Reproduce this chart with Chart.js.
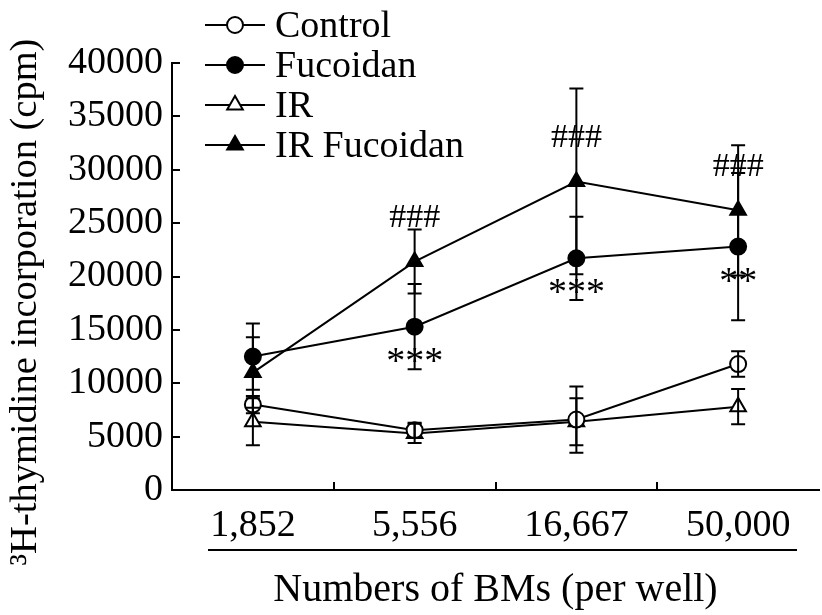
<!DOCTYPE html>
<html>
<head>
<meta charset="utf-8">
<script src="https://cdn.jsdelivr.net/npm/chart.js@4.4.1/dist/chart.umd.min.js"></script>
<style>
  html, body { margin: 0; padding: 0; overflow: hidden; background: #fff; }
  canvas { display: block; }
</style>
</head>
<body>
<canvas id="chart" width="830" height="615"></canvas>
<script>
// Numbers of BMs (per well)
const categories = ['1,852', '5,556', '16,667', '50,000']

// mean and SD per group (cpm)
const controlMean = [8000, 5600, 6600, 11800]
const controlSd = [800, 700, 3100, 1200]
const fucoidanMean = [12500, 15300, 21700, 22800]
const fucoidanSd = [3100, 4000, 3900, 6900]
const irMean = [6400, 5300, 6400, 7800]
const irSd = [2200, 900, 2200, 1650]
const irFucoidanMean = [11000, 21400, 28900, 26200]
const irFucoidanSd = [3300, 3000, 8700, 6100]

// significance marks
const hashMarks = ['', '###', '###', '###'] // over IR Fucoidan
const starMarks = ['', '***', '***', '**'] // under Fucoidan

const yMax = 40000
const yStep = 5000

const FONT = "'Liberation Serif', 'Times New Roman', serif"
Chart.defaults.font.family = FONT
Chart.defaults.color = '#000'

// error bars, drawn over the markers like in the original
const errorBars = {
  id: 'errorBars',
  afterDatasetsDraw (chart) {
    const { ctx } = chart
    const y = chart.scales.y
    ctx.save()
    ctx.strokeStyle = '#000'
    ctx.lineWidth = 2
    chart.data.datasets.forEach((ds, di) => {
      chart.getDatasetMeta(di).data.forEach((pt, i) => {
        const top = y.getPixelForValue(ds.data[i] + ds.errors[i])
        const bottom = y.getPixelForValue(ds.data[i] - ds.errors[i])
        ctx.beginPath()
        ctx.moveTo(pt.x, top)
        ctx.lineTo(pt.x, bottom)
        ctx.moveTo(pt.x - 7, top)
        ctx.lineTo(pt.x + 7, top)
        ctx.moveTo(pt.x - 7, bottom)
        ctx.lineTo(pt.x + 7, bottom)
        ctx.stroke()
      })
    })
    ctx.restore()
  }
}

// inward tick marks on both axes
const innerTicks = {
  id: 'innerTicks',
  afterDraw (chart) {
    const { ctx, chartArea } = chart
    const { x, y } = chart.scales
    ctx.save()
    ctx.strokeStyle = '#000'
    ctx.lineWidth = 2
    ctx.beginPath()
    y.ticks.forEach(t => {
      const py = Math.round(y.getPixelForValue(t.value))
      ctx.moveTo(chartArea.left, py)
      ctx.lineTo(chartArea.left + 8, py)
    })
    for (let i = 0; i < categories.length - 1; i++) {
      const px = Math.round((x.getPixelForValue(i) + x.getPixelForValue(i + 1)) / 2)
      ctx.moveTo(px, chartArea.bottom)
      ctx.lineTo(px, chartArea.bottom - 8)
    }
    ctx.stroke()

    // rule under the dose labels
    ctx.beginPath()
    ctx.moveTo(chartArea.left + 36, 550)
    ctx.lineTo(chartArea.right - 22, 550)
    ctx.stroke()

    // y title with superscript 3
    ctx.translate(26, 302)
    ctx.rotate(-Math.PI / 2)
    ctx.fillStyle = '#000'
    ctx.font = `38.5px ${FONT}`
    ctx.textAlign = 'center'
    ctx.textBaseline = 'middle'
    ctx.fillText('³H-thymidine incorporation (cpm)', 0, 0)
    ctx.restore()
  }
}

// ### and *** next to the points
const marks = {
  id: 'marks',
  afterDraw (chart) {
    const { ctx } = chart
    const irf = chart.getDatasetMeta(3).data
    const fuc = chart.getDatasetMeta(1).data
    ctx.save()
    ctx.fillStyle = '#000'
    ctx.textAlign = 'center'
    ctx.font = `34px ${FONT}`
    ctx.textBaseline = 'middle'
    hashMarks.forEach((m, i) => {
      if (m) ctx.fillText(m, irf[i].x, irf[i].y - 43)
    })
    ctx.font = `38px ${FONT}`
    ctx.textBaseline = 'alphabetic'
    starMarks.forEach((m, i) => {
      if (m) ctx.fillText(m, fuc[i].x, fuc[i].y + 27 + 19)
    })
    ctx.restore()
  }
}

// legend: line with marker, then label
const lineLegend = {
  id: 'lineLegend',
  afterDraw (chart) {
    const { ctx } = chart
    ctx.save()
    chart.data.datasets.forEach((ds, i) => {
      const x = 205
      const y = 25 + i * 40
      ctx.strokeStyle = '#000'
      ctx.lineWidth = 2
      ctx.beginPath()
      ctx.moveTo(x, y)
      ctx.lineTo(x + 60, y)
      ctx.stroke()
      ctx.fillStyle = ds.pointBackgroundColor
      Chart.helpers.drawPoint(ctx, {
        pointStyle: ds.pointStyle,
        radius: ds.pointRadius,
        borderWidth: ds.pointBorderWidth,
        rotation: 0
      }, x + 30, y)
      ctx.fillStyle = '#000'
      ctx.font = `38px ${FONT}`
      ctx.textAlign = 'left'
      ctx.textBaseline = 'middle'
      ctx.fillText(ds.label, x + 70, y + 2)
    })
    ctx.restore()
  }
}

function series (label, data, errors, style, filled) {
  return {
    label,
    data,
    errors,
    borderColor: '#000',
    borderWidth: 2,
    pointStyle: style,
    pointRadius: style === 'triangle' ? 9 : 8,
    pointBorderWidth: 2,
    pointBorderColor: '#000',
    pointBackgroundColor: filled ? '#000' : '#fff',
    tension: 0
  }
}

new Chart(document.getElementById('chart'), {
  type: 'line',
  data: {
    labels: categories,
    datasets: [
      series('Control', controlMean, controlSd, 'circle', false),
      series('Fucoidan', fucoidanMean, fucoidanSd, 'circle', true),
      series('IR', irMean, irSd, 'triangle', false),
      series('IR Fucoidan', irFucoidanMean, irFucoidanSd, 'triangle', true)
    ]
  },
  options: {
    responsive: false,
    animation: false,
    layout: { padding: { left: 0, right: 4, top: 63, bottom: 0 } },
    plugins: {
      legend: { display: false },
      tooltip: { enabled: false }
    },
    scales: {
      x: {
        offset: true,
        grid: { display: false, drawTicks: false },
        border: { display: true, color: '#000', width: 2 },
        ticks: {
          font: { size: 38 },
          padding: 13,
          maxRotation: 0,
          autoSkip: false
        },
        title: {
          display: true,
          text: 'Numbers of BMs (per well)',
          font: { size: 40 },
          padding: { top: 0, bottom: 1 }
        },
        afterFit (scale) { scale.height = 125 }
      },
      y: {
        min: 0,
        max: yMax,
        grid: { display: false, drawTicks: false },
        border: { display: true, color: '#000', width: 2 },
        ticks: {
          stepSize: yStep,
          font: { size: 38 },
          padding: 9,
          callback: v => String(v)
        },
        afterFit (scale) { scale.width = 172 }
      }
    }
  },
  plugins: [errorBars, innerTicks, marks, lineLegend]
})
</script>
</body>
</html>
